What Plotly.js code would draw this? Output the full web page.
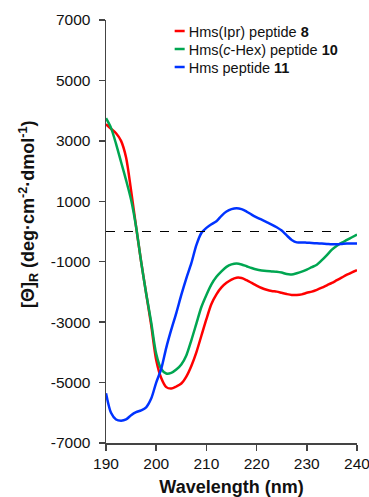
<!DOCTYPE html>
<html>
<head>
<meta charset="utf-8">
<script src="https://cdn.plot.ly/plotly-3.0.1.min.js"></script>
<style>html,body{margin:0;padding:0;background:#fff;}#chart{width:369px;height:497px;}</style>
</head>
<body>
<div id="chart"></div>
<script>
// Wavelength (nm)
const wavelength = [190,191,192,193,194,195,196,197,198,199,200,201,202,203,204,205,206,207,208,209,210,211,212,213,214,215,216,217,218,219,220,221,222,223,224,225,226,227,228,229,230,231,232,233,234,235,236,237,238,239,240];
// Hms(Ipr) peptide 8
const pep8 = [3550,3400,3250,3000,2450,1350,150,-1000,-2050,-3100,-4250,-4850,-5150,-5200,-5130,-5030,-4800,-4450,-4000,-3450,-2900,-2400,-2080,-1850,-1700,-1590,-1530,-1540,-1610,-1700,-1790,-1870,-1930,-1970,-1990,-2030,-2070,-2100,-2100,-2080,-2030,-1990,-1930,-1860,-1780,-1700,-1610,-1520,-1430,-1350,-1280];
// Hms(c-Hex) peptide 10
const pep10 = [3750,3430,2900,2300,1700,1050,150,-1000,-2050,-3000,-4050,-4550,-4700,-4680,-4570,-4400,-4100,-3600,-3050,-2500,-2100,-1750,-1500,-1320,-1170,-1090,-1060,-1090,-1150,-1210,-1260,-1290,-1310,-1320,-1330,-1360,-1410,-1420,-1380,-1330,-1260,-1180,-1100,-950,-780,-600,-470,-370,-280,-190,-100];
// Hms peptide 11
const pep11 = [-5350,-6000,-6220,-6260,-6220,-6080,-5980,-5920,-5820,-5530,-5000,-4550,-3850,-3250,-2700,-2100,-1550,-1050,-450,-50,120,240,340,520,660,740,770,740,660,560,470,390,310,230,140,30,-130,-280,-360,-360,-370,-380,-390,-400,-410,-420,-420,-410,-400,-400,-400];

const seriesNames = ['Hms(Ipr) peptide <b>8</b>', 'Hms(<i>c</i>-Hex) peptide <b>10</b>', 'Hms peptide <b>11</b>'];
const seriesColors = ['#ff0000', '#00a651', '#0033ff'];
const seriesValues = [pep8, pep10, pep11];

const xTicks = [190,200,210,220,230,240];
const yTicks = [-7000,-5000,-3000,-1000,1000,3000,5000,7000];

const traces = seriesValues.map((v, i) => ({
  x: wavelength, y: v, type: 'scatter', mode: 'lines',
  name: seriesNames[i],
  line: {color: seriesColors[i], width: 2.5, shape: 'spline', smoothing: 0.8}
}));

const FONT = 'Liberation Sans, Arial, Helvetica, sans-serif';
const axisColor = '#444444';

const layout = {
  width: 369, height: 497,
  margin: {l: 106, r: 12, t: 20, b: 54, pad: 0},
  paper_bgcolor: '#ffffff', plot_bgcolor: '#ffffff',
  font: {family: FONT, color: '#111111'},
  showlegend: true,
  legend: {
    x: 0.17, y: 1.0, xanchor: 'left', yanchor: 'top',
    bgcolor: 'rgba(0,0,0,0)', borderwidth: 0,
    font: {family: FONT, size: 14.5, color: '#111111'},
    tracegroupgap: 0
  },
  xaxis: {
    range: [190, 240], tickmode: 'array', tickvals: xTicks, ticktext: xTicks.map(String),
    showgrid: false, zeroline: false, showline: true, linecolor: axisColor, linewidth: 1.5,
    ticks: 'outside', ticklen: 6, tickwidth: 1.5, tickcolor: axisColor,
    tickfont: {family: FONT, size: 15.5, color: '#111111'},
    ticklabeloverflow: 'allow',
    title: {text: '<b>Wavelength (nm)</b>', font: {family: FONT, size: 18, color: '#111111'}, standoff: 11},
    automargin: false
  },
  yaxis: {
    range: [-7000, 7000], tickmode: 'array', tickvals: yTicks, ticktext: yTicks.map(String),
    showgrid: false, zeroline: false, showline: true, linecolor: axisColor, linewidth: 1.5,
    ticks: 'outside', ticklen: 6, tickwidth: 1.5, tickcolor: axisColor,
    tickfont: {family: FONT, size: 15.5, color: '#111111'},
    ticklabelstandoff: 5,
    ticklabeloverflow: 'allow',
    automargin: false
  },
  shapes: [{
    type: 'line', xref: 'paper', x0: 0, x1: 1, yref: 'y', y0: 0, y1: 0,
    line: {color: '#000000', width: 1.2, dash: 'dash'}
  }],
  annotations: [{
    xref: 'paper', yref: 'paper', x: -0.311, y: 0.541, xanchor: 'center', yanchor: 'middle',
    textangle: -90, showarrow: false,
    text: '<b>[Θ]<sub>R</sub> (deg·cm<sup>-2</sup>·dmol<sup>-1</sup>)</b>',
    font: {family: FONT, size: 18, color: '#111111'}
  }]
};

Plotly.newPlot('chart', traces, layout, {staticPlot: true, displayModeBar: false}).then(() => {
  // shorten legend line samples and tighten row spacing to match the reference
  document.querySelectorAll('.legend .legendlines path').forEach(p => p.setAttribute('d', 'M26,0h10'));
  const rows = document.querySelectorAll('.legend .traces');
  if (rows.length) {
    const m0 = /translate\(([-\d.]+),\s*([-\d.]+)\)/.exec(rows[0].getAttribute('transform') || '');
    if (m0) {
      const x0 = parseFloat(m0[1]), y0 = parseFloat(m0[2]) - 5;
      rows.forEach((r, i) => r.setAttribute('transform', 'translate(' + x0 + ',' + (y0 + i * 18) + ')'));
    }
  }
});
</script>
</body>
</html>
